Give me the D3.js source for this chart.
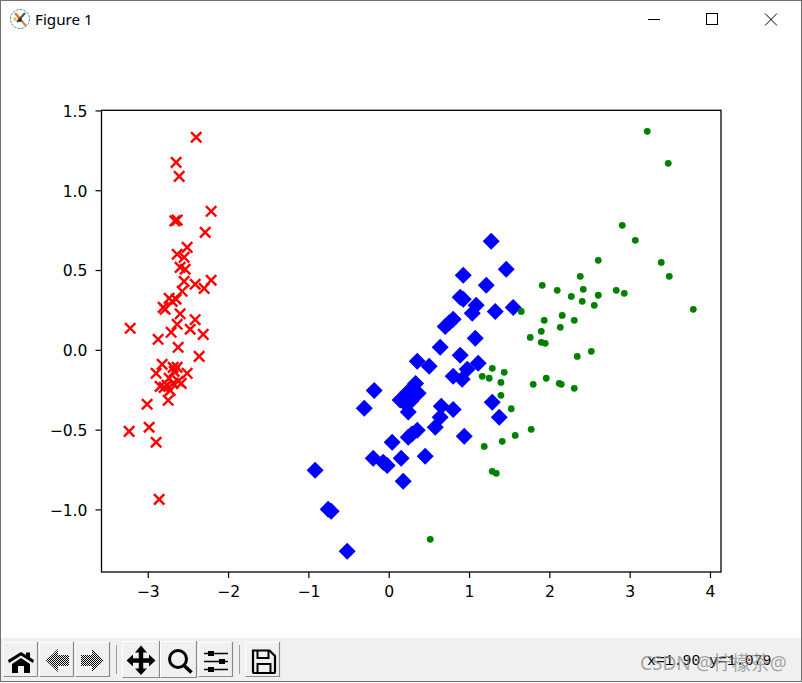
<!DOCTYPE html>
<html>
<head>
<meta charset="utf-8">
<script src="https://cdn.jsdelivr.net/npm/d3@7/dist/d3.min.js"></script>
<style>
  html, body { margin: 0; padding: 0; background: #fff; overflow: hidden; }
  svg { display: block; }
</style>
</head>
<body>
<svg id="win" width="802" height="683"></svg>
<script>
// First two principal components of the three iris species.
const setosaX = [-2.403,-2.653,-2.615,-2.217,-2.669,-2.640,-2.291,-2.516,-2.640,-2.553,-2.603,-2.540,-2.553,-2.416,-2.217,-2.304,-2.578,-2.653,-2.740,-2.702,-2.814,-2.790,-2.603,-2.416,-2.640,-2.715,-2.478,-2.316,-3.225,-2.877,-2.628,-2.366,-2.827,-2.690,-2.640,-2.902,-2.516,-2.677,-2.740,-2.628,-2.590,-2.690,-2.852,-2.802,-2.765,-2.727,-2.752,-3.014,-2.989,-3.238,-2.902,-2.864];
const setosaY = [1.335,1.178,1.090,0.871,0.811,0.816,0.739,0.645,0.602,0.583,0.520,0.508,0.432,0.414,0.439,0.388,0.370,0.320,0.326,0.307,0.269,0.257,0.229,0.192,0.163,0.113,0.132,0.100,0.138,0.069,0.019,-0.038,-0.088,-0.107,-0.107,-0.144,-0.144,-0.132,-0.175,-0.194,-0.207,-0.207,-0.226,-0.232,-0.219,-0.251,-0.313,-0.338,-0.482,-0.508,-0.576,-0.934];

const versicolorX = [1.270,1.457,0.922,1.208,0.884,0.922,1.083,1.034,1.320,1.544,0.797,0.747,0.697,1.071,0.635,0.884,1.108,0.349,0.498,0.971,0.797,0.909,0.329,-0.187,-0.311,0.136,0.360,0.233,0.270,0.208,0.237,0.648,0.797,0.635,0.573,1.283,1.370,0.349,0.237,0.283,0.037,0.934,-0.199,-0.075,-0.025,0.149,0.448,0.174,-0.922,-0.760,-0.722,-0.523];
const versicolorY = [0.683,0.508,0.470,0.407,0.332,0.320,0.282,0.232,0.244,0.269,0.194,0.173,0.150,0.075,0.019,-0.031,-0.081,-0.069,-0.100,-0.119,-0.163,-0.182,-0.208,-0.251,-0.363,-0.311,-0.269,-0.261,-0.318,-0.336,-0.387,-0.351,-0.370,-0.420,-0.482,-0.326,-0.420,-0.501,-0.545,-0.524,-0.576,-0.539,-0.677,-0.702,-0.721,-0.677,-0.664,-0.821,-0.752,-0.996,-1.009,-1.259];

const virginicaX = [3.213,3.474,2.902,3.064,2.603,3.387,2.379,3.487,1.905,2.092,2.416,2.827,2.927,2.267,2.603,2.403,2.553,3.786,1.644,2.154,1.930,2.304,2.130,1.893,1.756,1.893,1.943,2.516,2.341,1.432,1.955,1.391,1.793,2.117,2.142,2.304,1.391,1.519,1.283,1.158,1.245,1.569,1.768,1.407,1.183,1.283,1.333,0.511];
const virginicaY = [1.372,1.172,0.783,0.689,0.564,0.551,0.464,0.464,0.407,0.376,0.382,0.376,0.357,0.338,0.345,0.307,0.282,0.257,0.244,0.219,0.188,0.188,0.144,0.119,0.081,0.050,0.044,-0.006,-0.038,-0.138,-0.175,-0.201,-0.213,-0.207,-0.213,-0.238,-0.282,-0.366,-0.113,-0.163,-0.175,-0.533,-0.495,-0.570,-0.602,-0.758,-0.771,-1.184];

const xTicks = [-3,-2,-1,0,1,2,3,4];
const yTicks = [-1,-0.5,0,0.5,1,1.5];
const xDomain = [-3.582, 4.131];
const yDomain = [-1.389, 1.504];

const svg = d3.select("#win");
const x = d3.scaleLinear().domain(xDomain).range([101.5, 721]);
const y = d3.scaleLinear().domain(yDomain).range([572, 110.3]);
const minus = s => s.replace("-", "\u2212");

// ---------- plot ----------
const markers = svg.append("g");

markers.append("g").selectAll("path").data(d3.zip(setosaX, setosaY)).join("path")
  .attr("transform", d => `translate(${x(d[0])},${y(d[1])})`)
  .attr("d", "M-5.2,-5.2L5.2,5.2M-5.2,5.2L5.2,-5.2")
  .attr("fill", "none").attr("stroke", "#ff0000").attr("stroke-width", 2.4);

const diamond = "M0,-8.5L8.5,0L0,8.5L-8.5,0Z";
markers.append("g").selectAll("path").data(d3.zip(versicolorX, versicolorY)).join("path")
  .attr("transform", d => `translate(${x(d[0])},${y(d[1])})`)
  .attr("d", diamond).attr("fill", "#0000ff");

markers.append("g").selectAll("circle").data(d3.zip(virginicaX, virginicaY)).join("circle")
  .attr("cx", d => x(d[0])).attr("cy", d => y(d[1])).attr("r", 3.4)
  .attr("fill", "#008000");

const tickFont = g => g.selectAll("text")
  .attr("font-family", "DejaVu Sans").attr("font-size", 15.6).attr("fill", "#000");

const xAxis = svg.append("g").attr("transform", `translate(0,${y.range()[0]})`)
  .call(d3.axisBottom(x).offset(0).tickValues(xTicks).tickSize(6).tickPadding(8)
    .tickFormat(d => minus(String(d))));
const yAxis = svg.append("g").attr("transform", `translate(${x.range()[0]},0)`)
  .call(d3.axisLeft(y).offset(0).tickValues(yTicks).tickSize(6).tickPadding(8)
    .tickFormat(d => minus(d3.format(".1f")(d))));
for (const a of [xAxis, yAxis]) {
  a.call(tickFont);
  a.select(".domain").remove();
  a.selectAll("line").attr("stroke", "#000").attr("stroke-width", 1.2);
}
yAxis.selectAll("text").attr("dy", "0.38em");

// Frame around the axes
svg.append("rect")
  .attr("x", x.range()[0]).attr("y", y.range()[1])
  .attr("width", x.range()[1] - x.range()[0])
  .attr("height", y.range()[0] - y.range()[1])
  .attr("fill", "none").attr("stroke", "#000").attr("stroke-width", 1.3);

// ---------- window frame ----------
const chrome = svg.append("g");
chrome.append("rect").attr("x", 0).attr("y", 638).attr("width", 802).attr("height", 44).attr("fill", "#f0f0f0");
chrome.append("rect").attr("x", 0.5).attr("y", 0.5).attr("width", 801).attr("height", 681)
  .attr("fill", "none").attr("stroke", "#707070");

// Title bar
const logo = chrome.append("g").attr("transform", "translate(20,19)");
logo.append("circle").attr("r", 9.5).attr("fill", "#fff").attr("stroke", "#4a7fa5")
  .attr("stroke-width", 1).attr("stroke-dasharray", "2.5 1.2");
logo.append("path").attr("d", "M-5,-6L1,1").attr("stroke", "#e07a30").attr("stroke-width", 2.6);
logo.append("path").attr("d", "M1,1L6,7").attr("stroke", "#b98a50").attr("stroke-width", 2);
logo.append("path").attr("d", "M5,-6L-3,3").attr("stroke", "#555").attr("stroke-width", 2.2);
logo.append("circle").attr("cx", -5).attr("cy", 0).attr("r", 1.8).attr("fill", "#f0c040");
logo.append("circle").attr("cx", 0).attr("cy", 1).attr("r", 2).attr("fill", "#333");

chrome.append("text").attr("x", 35).attr("y", 25).attr("font-family", "Noto Sans")
  .attr("font-size", 15.2).attr("fill", "#000").text("Figure 1");

chrome.append("path").attr("d", "M648,19.5H660").attr("stroke", "#000").attr("fill", "none");
chrome.append("rect").attr("x", 706.5).attr("y", 13.5).attr("width", 11).attr("height", 11)
  .attr("fill", "none").attr("stroke", "#000");
chrome.append("path").attr("d", "M765,13.5L777,25.5M777,13.5L765,25.5").attr("stroke", "#000").attr("fill", "none");

// Toolbar: buttons, then their glyphs
const defs = svg.append("defs");
const pat = defs.append("pattern").attr("id", "dither")
  .attr("width", 2).attr("height", 2).attr("patternUnits", "userSpaceOnUse");
pat.append("rect").attr("width", 2).attr("height", 2).attr("fill", "#eee");
pat.append("rect").attr("width", 1).attr("height", 1).attr("fill", "#000");
pat.append("rect").attr("x", 1).attr("y", 1).attr("width", 1).attr("height", 1).attr("fill", "#000");

const buttons = [
  [3, 642, 35, 35], [39, 642, 35, 35], [75, 642, 35, 35],
  [122, 641, 38, 37], [160, 641, 37, 37], [198, 642, 35, 35], [245, 642, 35, 35]
];
const bar = chrome.append("g");
bar.selectAll("g").data(buttons).join("g").each(function (b) {
  const [bx, by, bw, bh] = b, g = d3.select(this);
  g.append("rect").attr("x", bx).attr("y", by).attr("width", bw).attr("height", bh).attr("fill", "#f0f0f0");
  g.append("path").attr("d", `M${bx + .5},${by + bh}V${by + .5}H${bx + bw}`).attr("fill", "none").attr("stroke", "#fff");
  g.append("path").attr("d", `M${bx + .5},${by + bh - .5}H${bx + bw - .5}V${by}`).attr("fill", "none").attr("stroke", "#8a8a8a").attr("stroke-width", 1.2);
});
[116.5, 239.5].forEach(sx => chrome.append("path").attr("d", `M${sx},645V674`).attr("stroke", "#a0a0a0").attr("fill", "none"));

const icons = chrome.append("g");
// home
icons.append("path").attr("fill", "#000")
  .attr("d", "M8,660L21,652L26,655V652.5H30V657.5L34,660L33,663L21,655.5L9,663ZM12,664L21,658L30,664V673H24V666H18V673H12Z");
// back, forward (dithered arrows)
icons.append("path").attr("fill", "url(#dither)")
  .attr("d", "M46,660.5L58,649V655H69V666H58V672Z");
icons.append("path").attr("fill", "url(#dither)")
  .attr("d", "M104,660.5L92,649V655H81V666H92V672Z");
// pan
icons.append("path").attr("fill", "#000")
  .attr("d", "M141,645.5L147,652.5H143.2V658.3H149V654.5L155.5,660.5L149,666.5V662.7H143.2V668.5H147L141,675L135,668.5H138.8V662.7H133V666.5L126.5,660.5L133,654.5V658.3H138.8V652.5H135Z");
// zoom
icons.append("circle").attr("cx", 178).attr("cy", 659).attr("r", 8.5).attr("fill", "none").attr("stroke", "#000").attr("stroke-width", 3);
icons.append("path").attr("d", "M184,665.5L191.5,672.5").attr("stroke", "#000").attr("stroke-width", 3.6).attr("fill", "none");
// subplots config
icons.append("path").attr("d", "M204,653.5H228M204,661.5H228M204,669.5H228").attr("stroke", "#000").attr("stroke-width", 1.4).attr("fill", "none");
icons.append("path").attr("fill", "#000")
  .attr("d", "M208,651h6v5h-6ZM219,659h6v5h-6ZM208,667h6v5h-6Z");
// save
icons.append("path").attr("fill", "none").attr("stroke", "#000").attr("stroke-width", 2.2)
  .attr("d", "M253,650.5H269.5L275,656V671.5Q275,673 273.5,673H254.5Q253,673 253,671.5Z");
icons.append("path").attr("fill", "none").attr("stroke", "#000").attr("stroke-width", 2)
  .attr("d", "M257.5,651V658H268.5V651M257.5,673V664H270.5V673");

// Cursor read-out and the overlaid credit
chrome.append("text").attr("x", 647).attr("y", 665).attr("font-family", "Liberation Mono")
  .attr("font-size", 14.8).attr("fill", "#000").text("x=1.90 y=1.079");
chrome.append("text").attr("x", 640).attr("y", 670).attr("font-family", "Noto Sans, Noto Sans CJK SC")
  .attr("font-size", 19).attr("fill", "#8a8a8a").attr("fill-opacity", 0.75).text("CSDN @柠檬茶@");
</script>
</body>
</html>
